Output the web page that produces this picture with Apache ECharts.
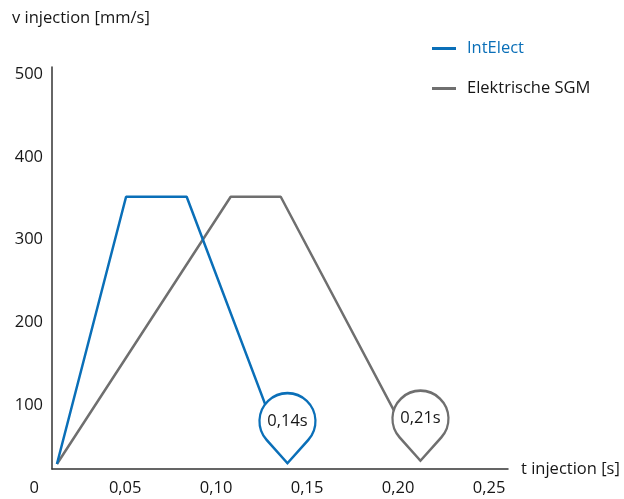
<!DOCTYPE html>
<html>
<head>
<meta charset="utf-8">
<script src="https://cdn.jsdelivr.net/npm/echarts@6/dist/echarts.min.js"></script>
<style>
html,body{margin:0;padding:0;background:#fff;}
#c{width:624px;height:499px;}
</style>
</head>
<body>
<div id="c"></div>
<script>
// ---- data ----
const seriesNames = ['IntElect', 'Elektrische SGM'];
const intElectT = [0.0125, 0.0505, 0.0838, 0.1392];
const intElectV = [29, 352, 352, 30];
const sgmT = [0.0125, 0.108, 0.1355, 0.2123];
const sgmV = [29, 352, 352, 33];
const xTicks = [0, 0.05, 0.10, 0.15, 0.20, 0.25];
const yTicks = [100, 200, 300, 400, 500];
const pinLabels = ['0,14s', '0,21s'];

const BLUE = '#0a6fb8';
const GRAY = '#6f6f6f';
const TXT = '#161616';
const FONT = '"Open Sans", "Noto Sans", sans-serif';
const FS = 16.5;

const zip = (t, v) => t.map((x, i) => [x, v[i]]);

// pin shape: circle r=28 (bezier arcs) with straight tangents to a tip 42px below its centre
const PIN = 'path://M20.87 18.67C30.91 7.44 30.27 -9.72 19.42 -20.17C8.57 -30.62 -8.57 -30.62 -19.42 -20.17C-30.27 -9.72 -30.91 7.43 -20.87 18.66L0 42Z';

// pixel mapping of the label scale (0 -> x=34.2, 0.25 -> x=489)
const PX0 = 34.2, PXU = 1819.4;
const gridL = 52, gridR = 508;
const xMin = (gridL - PX0) / PXU, xMax = (gridR - PX0) / PXU;

const chart = echarts.init(document.getElementById('c'));
const pin = (color, name, coord) => ({
  symbol: PIN, symbolSize: [56, 70], symbolOffset: [0, -35], symbolKeepAspect: false,
  itemStyle: {color: '#fff', borderColor: color, borderWidth: 2.5},
  label: {show: true, color: TXT, fontSize: FS, fontFamily: FONT, offset: [0, -7], formatter: p => p.name},
  data: [{name: name, coord: coord}]
});
chart.setOption({
  animation: false,
  textStyle: {fontFamily: FONT},
  title: {
    text: 'v injection [mm/s]',
    left: 7, top: 5,
    textStyle: {fontSize: FS, fontWeight: 'normal', color: TXT, fontFamily: FONT}
  },
  legend: {
    orient: 'vertical',
    left: 432, top: 40, padding: 0,
    itemGap: 23,
    icon: 'rect',
    itemWidth: 24, itemHeight: 3,
    textStyle: {fontSize: FS, color: TXT, fontFamily: FONT, padding: [0, 0, 0, 6]},
    data: [
      {name: seriesNames[0], textStyle: {color: BLUE}},
      {name: seriesNames[1], textStyle: {color: TXT}}
    ]
  },
  grid: [
    {left: gridL, right: 624 - gridR, top: 67, bottom: 30},
    {left: PX0, right: 624 - (PX0 + PXU * 0.25), top: 67, bottom: 30}
  ],
  xAxis: [
    {
      type: 'value', gridIndex: 0, min: xMin, max: xMax,
      axisLine: {show: true, lineStyle: {color: '#333', width: 1.5}},
      axisTick: {show: false}, axisLabel: {show: false}, splitLine: {show: false},
      name: 't injection [s]', nameLocation: 'end', nameGap: 13,
      nameTextStyle: {fontSize: FS, color: TXT, fontFamily: FONT, verticalAlign: 'middle'}
    },
    {
      type: 'value', gridIndex: 1, min: 0, max: 0.25, interval: 0.05,
      axisLine: {show: false}, axisTick: {show: false}, splitLine: {show: false},
      axisLabel: {
        fontSize: FS, color: TXT, margin: 11, fontFamily: FONT, customValues: xTicks,
        formatter: v => v === 0 ? '0' : v.toFixed(2).replace('.', ',')
      }
    }
  ],
  yAxis: [
    {
      type: 'value', gridIndex: 0, min: 22.96, max: 508.8,
      axisLine: {show: true, lineStyle: {color: '#333', width: 1.5}},
      axisTick: {show: false}, splitLine: {show: false},
      axisLabel: {fontSize: FS, color: TXT, margin: 9, fontFamily: FONT, customValues: yTicks}
    },
    {type: 'value', gridIndex: 1, min: 0, max: 500, show: false}
  ],
  series: [
    {
      name: seriesNames[1], type: 'line', xAxisIndex: 0, yAxisIndex: 0,
      data: zip(sgmT, sgmV), showSymbol: false, z: 2,
      lineStyle: {color: GRAY, width: 2.5}, itemStyle: {color: GRAY},
      markPoint: pin(GRAY, pinLabels[1], [sgmT[3], sgmV[3]])
    },
    {
      name: seriesNames[0], type: 'line', xAxisIndex: 0, yAxisIndex: 0,
      data: zip(intElectT, intElectV), showSymbol: false, z: 3,
      lineStyle: {color: BLUE, width: 2.5}, itemStyle: {color: BLUE},
      markPoint: pin(BLUE, pinLabels[0], [intElectT[3], intElectV[3]])
    }
  ]
});
</script>
</body>
</html>
